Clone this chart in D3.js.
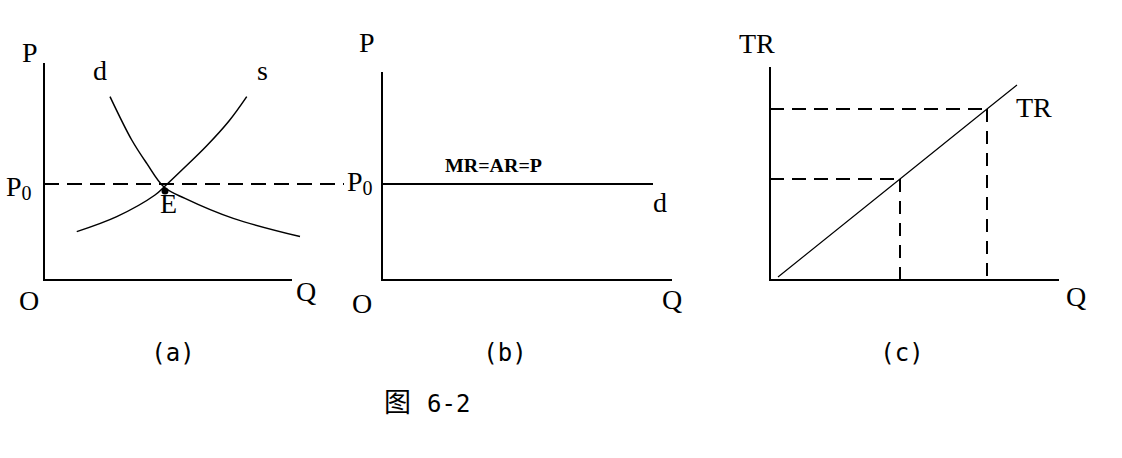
<!DOCTYPE html>
<html><head><meta charset="utf-8">
<script src="https://cdn.jsdelivr.net/npm/d3@7"></script>
<style>
html,body{margin:0;padding:0;background:#fff;}
svg{display:block;}
.lbl{font-family:"Liberation Serif","Times New Roman",serif;font-size:28px;fill:#000;}
.cap{font-family:"DejaVu Sans Mono",monospace;font-size:24px;fill:#000;}
</style></head>
<body>
<svg id="c" width="1122" height="458"></svg>
<script>
// ---- data (domain units) ----
const demandQ = [2.64, 3.51, 4.11, 4.8, 5.64, 7.57, 10.24];
const demandP = [9.17, 7.0, 5.83, 4.65, 4.08, 3.08, 2.17];
const supplyQ = [1.31, 2.91, 4.44, 4.8, 5.6, 6.5, 7.4, 8.11];
const supplyP = [2.42, 3.17, 4.25, 4.65, 5.6, 6.7, 7.95, 9.17];
const equilibriumQ = [4.84];
const equilibriumP = [4.45];
const priceP0 = [4.8];
const p0LineEndQ = [12.0];
const demandBQ = [0, 10.84];          // horizontal d line in (b)
const trQ = [0.32, 5.2, 8.68, 9.88];
const trValues = [0.15, 5.05, 8.55, 9.75];
const markedQ = [5.2, 8.68];
const markedTR = [5.05, 8.55];
const axisTop = [10.85, 10.4, 10.65];
const axisEnd = [9.92, 11.6, 11.56];
const panelLabels = ["(a)", "(b)", "(c)"];
const caption = ["图", "6-2"];

const svg = d3.select("#c");
const origins = [44, 382, 770];
const xs = origins.map(o => d3.scaleLinear().domain([0, 10]).range([o, o + 250]));
const y = d3.scaleLinear().domain([0, 10]).range([280, 80]);

// axes
origins.forEach((o, i) => {
  const x = xs[i];
  svg.append("line").attr("x1", x(0)).attr("x2", x(0)).attr("y1", y(0) + 1).attr("y2", y(axisTop[i]))
    .attr("stroke", "#000").attr("stroke-width", 2);
  svg.append("line").attr("x1", x(0)).attr("x2", x(axisEnd[i])).attr("y1", y(0)).attr("y2", y(0))
    .attr("stroke", "#000").attr("stroke-width", 2);
});

// ---- panel (a) ----
const xa = xs[0];
const line = (x) => d3.line().x(d => x(d[0])).y(d => y(d[1])).curve(d3.curveCatmullRom);
svg.append("line").attr("x1", xa(0)).attr("x2", xa(p0LineEndQ[0])).attr("y1", y(priceP0[0])).attr("y2", y(priceP0[0]))
  .attr("stroke", "#000").attr("stroke-width", 2).attr("stroke-dasharray", "15,8");
svg.append("path").attr("d", line(xa)(d3.zip(demandQ, demandP))).attr("fill", "none").attr("stroke", "#000").attr("stroke-width", 1.5);
svg.append("path").attr("d", line(xa)(d3.zip(supplyQ, supplyP))).attr("fill", "none").attr("stroke", "#000").attr("stroke-width", 1.5);
svg.append("circle").attr("cx", xa(equilibriumQ[0])).attr("cy", y(equilibriumP[0])).attr("r", 3.5).attr("fill", "#000");

function txt(x, yy, s, cls) { return svg.append("text").attr("class", cls || "lbl").attr("x", x).attr("y", yy).text(s); }
function p0(x, yy) {
  const t = svg.append("text").attr("class", "lbl").attr("x", x).attr("y", yy);
  t.append("tspan").text("P");
  t.append("tspan").attr("font-size", "20px").attr("dy", 4).text("0");
}
txt(22, 62, "P");
txt(93, 80, "d");
txt(257, 80, "s");
p0(6, 196);
txt(160, 213, "E");
txt(19, 310, "O");
txt(296, 301, "Q");

// ---- panel (b) ----
const xb = xs[1];
svg.append("line").attr("x1", xb(demandBQ[0])).attr("x2", xb(demandBQ[1])).attr("y1", y(priceP0[0])).attr("y2", y(priceP0[0]))
  .attr("stroke", "#000").attr("stroke-width", 2);
txt(359, 52, "P");
p0(347, 191);
svg.append("text").attr("x", 445).attr("y", 172).attr("font-family", "Liberation Serif, serif")
  .attr("font-size", 19).attr("font-weight", "bold").attr("textLength", 97).attr("lengthAdjust", "spacingAndGlyphs").text("MR=AR=P");
txt(653, 212, "d");
txt(352, 313, "O");
txt(662, 309, "Q");

// ---- panel (c) ----
const xc = xs[2];
markedQ.forEach((q, i) => {
  svg.append("line").attr("x1", xc(0)).attr("x2", xc(q)).attr("y1", y(markedTR[i])).attr("y2", y(markedTR[i]))
    .attr("stroke", "#000").attr("stroke-width", 2).attr("stroke-dasharray", "14,8");
  svg.append("line").attr("x1", xc(q)).attr("x2", xc(q)).attr("y1", y(markedTR[i])).attr("y2", y(0))
    .attr("stroke", "#000").attr("stroke-width", 2).attr("stroke-dasharray", "13,9");
});
svg.append("path").attr("d", d3.line().x(d => xc(d[0])).y(d => y(d[1]))(d3.zip(trQ, trValues)))
  .attr("fill", "none").attr("stroke", "#000").attr("stroke-width", 1.2);
txt(739, 53, "TR");
txt(1016, 117, "TR");
txt(1066, 306, "Q");

// panel captions
[173, 505, 902].forEach((cx, i) => {
  svg.append("text").attr("class", "cap").attr("x", cx).attr("y", 361).attr("text-anchor", "middle").text(panelLabels[i]);
});
svg.append("text").attr("x", 384).attr("y", 412).attr("font-family", "Noto Sans CJK SC, sans-serif").attr("font-size", 27).text(caption[0]);
svg.append("text").attr("class", "cap").attr("x", 427).attr("y", 412).text(caption[1]);
</script>
</body></html>
